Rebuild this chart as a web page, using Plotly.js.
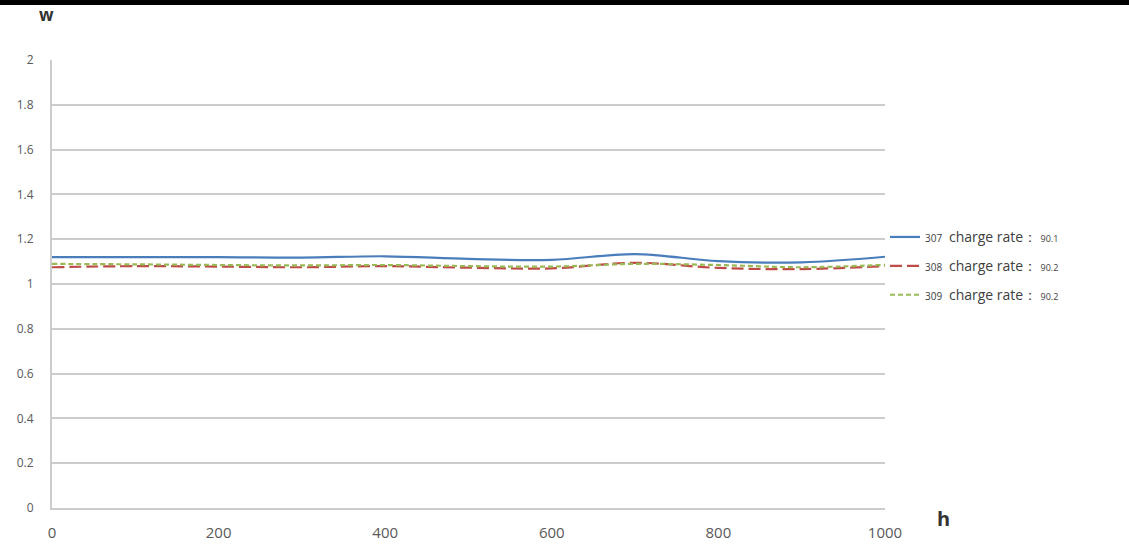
<!DOCTYPE html>
<html>
<head>
<meta charset="utf-8">
<script src="https://cdn.plot.ly/plotly-3.0.1.min.js"></script>
<style>
html,body{margin:0;padding:0;background:#fff;}
#chart{width:1129px;height:558px;}
</style>
</head>
<body>
<div id="chart"></div>
<script>
var hours = [0, 100, 200, 300, 400, 500, 600, 700, 800, 900, 1000];
var s307 = [1.12, 1.12, 1.12, 1.118, 1.124, 1.112, 1.108, 1.134, 1.102, 1.097, 1.122];
var s308 = [1.075, 1.08, 1.078, 1.075, 1.08, 1.073, 1.07, 1.095, 1.072, 1.067, 1.08];
var s309 = [1.09, 1.088, 1.085, 1.083, 1.085, 1.08, 1.078, 1.09, 1.085, 1.075, 1.086];
var seriesNames = ['307', '308', '309'];
var rates = ['90.1', '90.2', '90.2'];
var xTicks = [0, 200, 400, 600, 800, 1000];
var yTicks = [0, 0.2, 0.4, 0.6, 0.8, 1, 1.2, 1.4, 1.6, 1.8, 2];
var yTickText = ['0', '0.2', '0.4', '0.6', '0.8', '1', '1.2', '1.4', '1.6', '1.8', '2'];

function legendName(i) {
  return '<span style="font-size:10px">' + seriesNames[i] + '</span>  ' +
         '<span style="font-size:14px">charge rate：</span> ' +
         '<span style="font-size:9px">' + rates[i] + '</span>';
}

var colors = ['#4a7ebb', '#be4b48', '#98b954'];
var dashes = ['solid', '12px,5px', '5px,3px'];
var values = [s307, s308, s309];
var traces = values.map(function (v, i) {
  return {
    x: hours, y: v, type: 'scatter', mode: 'lines',
    name: legendName(i), legendgroup: 'g' + i,
    line: {color: colors[i], width: 2.2, dash: dashes[i], shape: 'spline', smoothing: 1}
  };
});

var W = 833, H = 448;
var layout = {
  width: 1129, height: 558,
  margin: {l: 52, r: 244, t: 60, b: 50},
  paper_bgcolor: '#ffffff', plot_bgcolor: '#ffffff',
  font: {family: 'Open Sans, sans-serif', color: '#595959'},
  showlegend: true,
  legend: {
    x: 1.0, xanchor: 'left', y: (508 - 222) / H, yanchor: 'top',
    font: {size: 13, color: '#404040'},
    tracegroupgap: 9, itemwidth: 30,
    bgcolor: 'rgba(0,0,0,0)'
  },
  xaxis: {
    range: [0, 1000], tickvals: xTicks, ticktext: xTicks.map(String),
    showgrid: false, zeroline: false,
    showline: true, linecolor: '#cccccc', linewidth: 2,
    ticks: '', ticklabelstandoff: 10,
    tickfont: {size: 15, color: '#595959'}, fixedrange: true
  },
  yaxis: {
    range: [0, 2.0005], tickvals: yTicks, ticktext: yTickText,
    showgrid: true, gridcolor: '#cccccc', gridwidth: 2,
    zeroline: false, showline: true, linecolor: '#cccccc', linewidth: 2,
    ticks: '', ticklabelstandoff: 14,
    tickfont: {size: 12, color: '#595959'}, fixedrange: true
  },
  annotations: [
    {text: '<b>w</b>', xref: 'paper', yref: 'paper', x: -6 / W, y: (508 - 15) / H,
     showarrow: false, font: {size: 17, color: '#333333'}, xanchor: 'center', yanchor: 'middle'},
    {text: '<b>h</b>', xref: 'paper', yref: 'paper', x: (943 - 52) / W, y: (508 - 518) / H,
     showarrow: false, font: {size: 20, color: '#333333'}, xanchor: 'center', yanchor: 'middle'}
  ],
  shapes: [
    {type: 'rect', xref: 'paper', yref: 'paper', layer: 'above',
     x0: -52 / W, x1: (1129 - 52) / W, y0: (508 - 5) / H, y1: 508 / H + 0.02,
     fillcolor: '#000000', line: {width: 0}}
  ]
};

Plotly.newPlot('chart', traces, layout, {displayModeBar: false, staticPlot: true});
</script>
</body>
</html>
